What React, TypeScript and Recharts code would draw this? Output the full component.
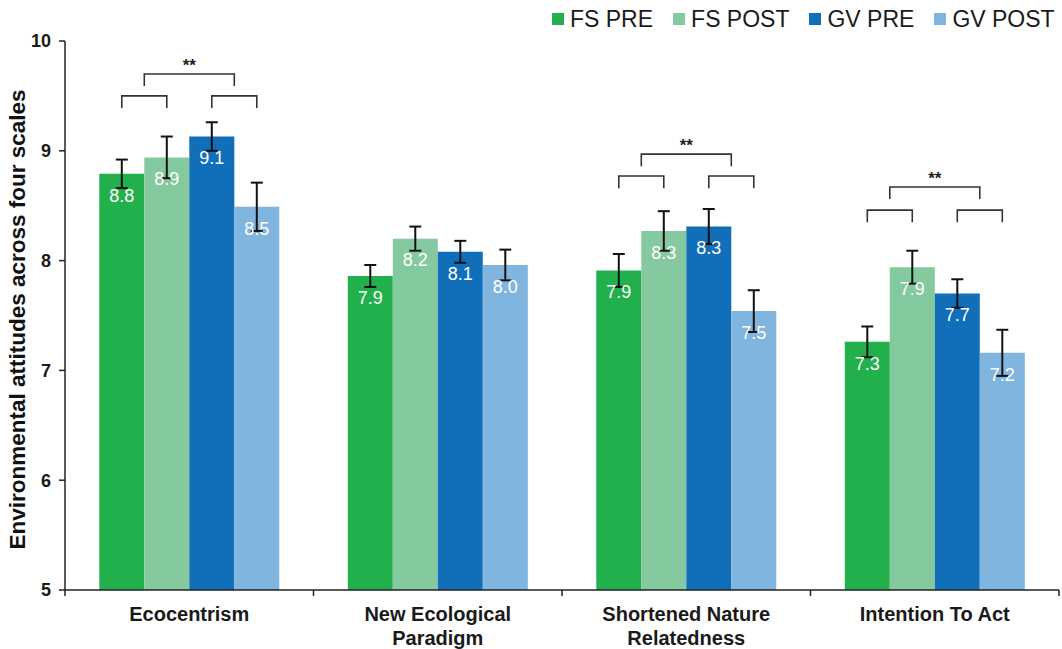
import { Bar, BarChart, ErrorBar, LabelList, Legend, Text, XAxis, YAxis } from 'recharts'

const categories = ['Ecocentrism', 'New Ecological Paradigm', 'Shortened Nature Relatedness', 'Intention To Act']
const seriesNames = ['FS PRE', 'FS POST', 'GV PRE', 'GV POST']
const fsPre = [8.79, 7.86, 7.91, 7.26]
const fsPost = [8.94, 8.2, 8.27, 7.94]
const gvPre = [9.13, 8.08, 8.31, 7.7]
const gvPost = [8.49, 7.96, 7.54, 7.16]
const fsPreErr = [0.13, 0.1, 0.15, 0.14]
const fsPostErr = [0.19, 0.11, 0.18, 0.15]
const gvPreErr = [0.13, 0.1, 0.16, 0.13]
const gvPostErr = [0.22, 0.14, 0.19, 0.21]
// significance brackets, in scale units (null = no bracket for that scale)
const pairBracket = [9.5, null, 8.77, 8.46]
const groupBracket = [9.7, null, 8.97, 8.67]
const yTicks = [5, 6, 7, 8, 9, 10]
const Y_MIN = 5
const Y_MAX = 10
const Y_TITLE = 'Environmental attitudes across four scales'

const colors = ['#21B04B', '#85CA9F', '#116EB8', '#7FB5DF']
const FONT = '"Liberation Sans", Arial, Helvetica, sans-serif'

const data = categories.map((name, i) => ({
  name,
  fsPre: fsPre[i],
  fsPost: fsPost[i],
  gvPre: gvPre[i],
  gvPost: gvPost[i],
  fsPreErr: fsPreErr[i],
  fsPostErr: fsPostErr[i],
  gvPreErr: gvPreErr[i],
  gvPostErr: gvPostErr[i],
}))

const tickStyle = { fontSize: 20, fontWeight: 'bold', fontFamily: FONT }

function CategoryTick(props: any) {
  const { x, y, payload } = props
  const half = payload?.offset ?? 124
  return (
    <g>
      <line x1={x + half} y1={y} x2={x + half} y2={y + 6} stroke="#222" strokeWidth={1.5} />
      {payload?.index === 0 && <line x1={x - half} y1={y} x2={x - half} y2={y + 6} stroke="#222" strokeWidth={1.5} />}
      <Text
        x={x}
        y={y + 17}
        width={174}
        lineHeight={24}
        textAnchor="middle"
        verticalAnchor="start"
        style={tickStyle}
        fontSize={20}
        fontWeight="bold"
        fontFamily={FONT}
        fill="#1a1a1a"
      >
        {payload.value}
      </Text>
    </g>
  )
}

function YTitle(props: any) {
  const vb = props.viewBox || {}
  const cx = (vb.x ?? 0) + 17
  const cy = (vb.y ?? 41) + (vb.height ?? 549) / 2 + 4
  return (
    <text
      x={cx}
      y={cy}
      transform={`rotate(-90 ${cx} ${cy})`}
      textAnchor="middle"
      dominantBaseline="central"
      fontSize={22.5}
      fontWeight="bold"
      fontFamily={FONT}
      fill="#111"
    >
      {Y_TITLE}
    </text>
  )
}

// drawn from the GV PRE bar: neighbours sit flush on either side (barGap 0)
function Brackets(props: any) {
  const vb = props.viewBox ?? props
  const { x, y, width: w, height: h } = vb
  const i = props.index
  const pair = pairBracket[i]
  const group = groupBracket[i]
  if (pair == null || group == null || !h) return null
  const unit = h / (gvPre[i] - Y_MIN)
  const toPx = (v: number) => y + h - (v - Y_MIN) * unit
  const leg = 0.11 * unit
  const py = toPx(pair)
  const gy = toPx(group)
  const s = { fill: 'none', stroke: '#333', strokeWidth: 1.6 }
  return (
    <g>
      <path d={`M${x - 1.5 * w} ${py + leg} V${py} H${x - 0.5 * w} V${py + leg}`} {...s} />
      <path d={`M${x + 0.5 * w} ${py + leg} V${py} H${x + 1.5 * w} V${py + leg}`} {...s} />
      <path d={`M${x - w} ${gy + leg} V${gy} H${x + w} V${gy + leg}`} {...s} />
      <text x={x} y={gy - 3} textAnchor="middle" fontSize={17} fontWeight="bold" fontFamily={FONT} fill="#222">
        **
      </text>
    </g>
  )
}

function LegendContent({ payload }: any) {
  const items = [...(payload || [])].sort((a: any, b: any) => seriesNames.indexOf(a.value) - seriesNames.indexOf(b.value))
  return (
    <div style={{ display: 'flex', alignItems: 'center', fontSize: 23, lineHeight: '26px', color: '#1a1a1a', fontFamily: FONT, whiteSpace: 'nowrap' }}>
      {items.map((p: any, i: number) => (
        <div key={i} style={{ display: 'flex', alignItems: 'center', marginRight: 20 }}>
          <span style={{ display: 'inline-block', width: 12, height: 12, background: p.color, marginRight: 6 }} />
          <span>{p.value}</span>
        </div>
      ))}
    </div>
  )
}

const fmt = (v: any) => Number(v).toFixed(1)

export default function App() {
  const keys = ['fsPre', 'fsPost', 'gvPre', 'gvPost']
  return (
    <div style={{ position: 'absolute', left: 0, top: 0, width: 1062, height: 649, background: '#fff' }}>
      <BarChart
        width={1062}
        height={649}
        data={data}
        margin={{ top: 41, right: 3, bottom: 0, left: 0 }}
        barCategoryGap="13.8%"
        barGap={0}
        style={{ fontFamily: FONT }}
      >
        <XAxis
          dataKey="name"
          height={59}
          tickLine={false}
          tickSize={0}
          tickMargin={0}
          axisLine={{ stroke: '#222', strokeWidth: 1.5 }}
          tick={<CategoryTick />}
          interval={0}
        />
        <YAxis
          width={65}
          domain={[Y_MIN, Y_MAX]}
          ticks={yTicks}
          tickSize={6}
          tickMargin={8}
          axisLine={{ stroke: '#222', strokeWidth: 1.5 }}
          tickLine={{ stroke: '#222', strokeWidth: 1.5 }}
          tick={{ fontSize: 18, fontWeight: 'bold', fill: '#1a1a1a', fontFamily: FONT }}
          label={<YTitle />}
        />
        <Legend
          verticalAlign="middle"
          align="center"
          layout="horizontal"
          wrapperStyle={{ top: 6, left: 552, width: 510 }}
          content={<LegendContent />}
        />
        {keys.map((k, i) => (
          <Bar key={k} dataKey={k} name={seriesNames[i]} fill={colors[i]} isAnimationActive={false}>
            <ErrorBar dataKey={`${k}Err`} width={6} strokeWidth={2} stroke="#111" direction="y" isAnimationActive={false} />
            <LabelList dataKey={k} position="insideTop" offset={15} fill="#fff" fontSize={18} fontFamily={FONT} formatter={fmt} />
            {k === 'gvPre' && <LabelList dataKey={k} content={<Brackets />} />}
          </Bar>
        ))}
      </BarChart>
    </div>
  )
}
